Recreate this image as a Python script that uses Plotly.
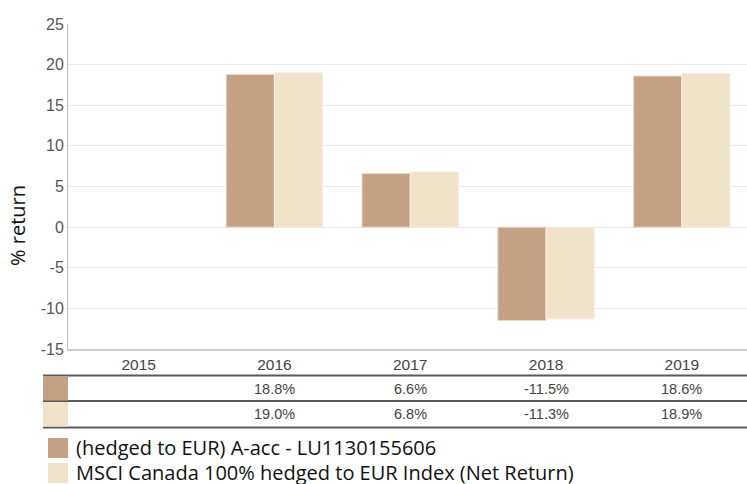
import plotly.graph_objects as go

years = ["2015", "2016", "2017", "2018", "2019"]
fund_name = "(hedged to EUR) A-acc - LU1130155606"
index_name = "MSCI Canada 100% hedged to EUR Index (Net Return)"
fund_values = [None, 18.8, 6.6, -11.5, 18.6]
index_values = [None, 19.0, 6.8, -11.3, 18.9]
y_ticks = [-15, -10, -5, 0, 5, 10, 15, 20, 25]

fund_color = "#c4a182"
index_color = "#efe3c9"

W, H = 747, 484
L, R, T, B = 68, 0, 24, 135
PW = W - L - R
PH = H - T - B


def px_x(px):
    return (px - L) / PW


def px_y(py):
    return (H - B - py) / PH


fig = go.Figure()
fig.add_trace(go.Bar(x=years, y=fund_values, name=fund_name,
                     marker=dict(color=fund_color, line=dict(color="#ecd9cc", width=1)),
                     showlegend=False))
fig.add_trace(go.Bar(x=years, y=index_values, name=index_name,
                     marker=dict(color=index_color, line=dict(color="#f7efde", width=1)),
                     showlegend=False))

shapes = []
annotations = []

# table lines
for py in [375.5, 401, 427.5]:
    shapes.append(dict(type="line", xref="paper", yref="paper",
                       x0=px_x(43), x1=px_x(747), y0=px_y(py), y1=px_y(py),
                       line=dict(color="#5a5a5a", width=2)))

rows = [(fund_values, fund_color, 376.5, 400.5), (index_values, index_color, 402, 426.5)]
for vals, col, y0, y1 in rows:
    shapes.append(dict(type="rect", xref="paper", yref="paper",
                       x0=px_x(43), x1=px_x(68), y0=px_y(y1), y1=px_y(y0),
                       fillcolor=col, line=dict(width=0)))
    for i, v in enumerate(vals):
        if v is None:
            continue
        annotations.append(dict(x=i, xref="x", y=px_y((y0 + y1) / 2), yref="paper",
                                text=f"{v:.1f}%", showarrow=False,
                                font=dict(family="Liberation Sans", size=14.5, color="#444"),
                                xanchor="center", yanchor="middle"))

# legend
for name, col, top in [(fund_name, fund_color, 438), (index_name, index_color, 463)]:
    shapes.append(dict(type="rect", xref="paper", yref="paper",
                       x0=px_x(48), x1=px_x(68), y0=px_y(top + 20), y1=px_y(top),
                       fillcolor=col, line=dict(width=0)))
    annotations.append(dict(x=px_x(74), xref="paper", y=px_y(top + 9), yref="paper",
                            text=name, showarrow=False, xanchor="left", yanchor="middle",
                            font=dict(family="Open Sans", size=20, color="#111")))

# y-axis title
annotations.append(dict(x=px_x(17), xref="paper", y=px_y(226), yref="paper",
                        text="% return", textangle=-90, showarrow=False,
                        xanchor="center", yanchor="middle",
                        font=dict(family="Open Sans", size=20, color="#111")))

fig.update_layout(
    width=W, height=H,
    margin=dict(l=L, r=R, t=T, b=B),
    paper_bgcolor="white", plot_bgcolor="white",
    barmode="group", bargap=0.29, bargroupgap=0,
    shapes=shapes, annotations=annotations,
    font=dict(family="Liberation Sans", size=16, color="#555"),
    xaxis=dict(type="category", categoryorder="array", categoryarray=years,
               range=[-0.52, len(years) - 0.52],
               showline=True, linecolor="#cccccc", linewidth=2, ticks="",
               tickfont=dict(size=15.5, color="#444")),
    yaxis=dict(range=[-15, 25], tickvals=y_ticks, ticktext=[str(t) for t in y_ticks],
               showgrid=True, gridcolor="#e8e8e8",
               gridwidth=1, zeroline=True, zerolinecolor="#e8e8e8", zerolinewidth=1,
               showline=True, linecolor="#bbbbbb", linewidth=1, ticks="",
               tickfont=dict(size=16, color="#555")),
)

fig.write_html("out.html", config={"displayModeBar": False},
               post_script="document.body.style.margin='0';document.body.style.overflow='hidden';")
